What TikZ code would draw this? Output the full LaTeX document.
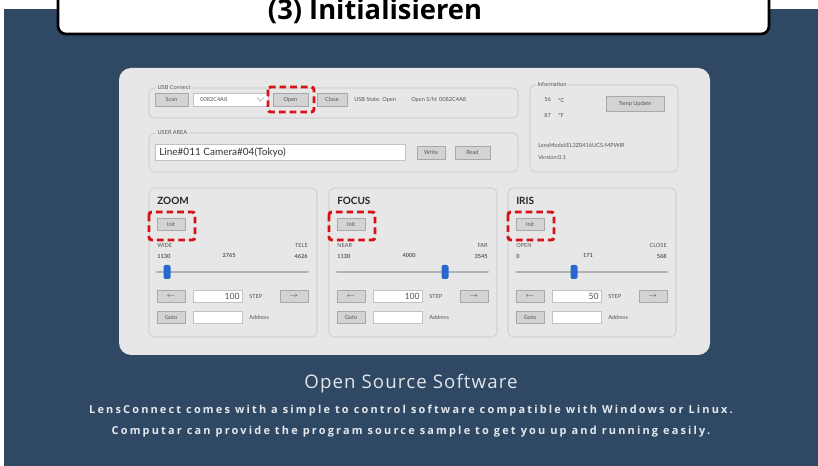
\documentclass[tikz,border=0pt]{standalone}
\usepackage{fontspec}
\setmainfont{Open Sans}
\newfontfamily\uifont{Lato}
\newfontfamily\slidefont[LetterSpace=6]{Open Sans}
\newfontfamily\slidebody[LetterSpace=20]{Open Sans}
\usetikzlibrary{positioning}
\definecolor{boardblue}{RGB}{47,73,100}
\definecolor{panelgray}{RGB}{231,231,231}
\definecolor{groupline}{RGB}{210,210,210}
\definecolor{btngray}{RGB}{211,211,211}
\definecolor{btnline}{RGB}{168,168,168}
\definecolor{uitext}{RGB}{85,85,85}
\definecolor{markred}{RGB}{214,18,24}
\definecolor{thumbblue}{RGB}{38,104,205}
\definecolor{slidetext}{RGB}{226,230,235}

\tikzset{
  uigroup/.style={draw=groupline,line width=0.8pt,rounded corners=4pt},
  uibtn/.style={draw=btnline,fill=btngray,line width=0.5pt},
  uifield/.style={draw=btnline!70,fill=white,line width=0.4pt},
  uilabel/.style={font=\uifont\fontsize{4.2}{5}\selectfont,text=uitext,inner sep=0pt},
  uititle/.style={font=\uifont\fontsize{7.5}{8}\bfseries,text=black!85,inner sep=0pt,anchor=west},
  initmark/.style={draw=markred,line width=2.2pt,dash pattern=on 5pt off 3pt,rounded corners=2pt},
}

\begin{document}
\begin{tikzpicture}[x=0.75pt,y=-0.75pt]
\useasboundingbox (0,0) rectangle (818,466);
% board and panel
\fill[boardblue] (4,9) rectangle (818,466);
\fill[panelgray,rounded corners=9pt] (119,68) rectangle (710,355);

% usb connect
\draw[uigroup] (149,88) rectangle (518,118);
\node[uilabel,fill=panelgray,inner xsep=1pt,anchor=west] (usbconnect) at (156,87) {USB Connect};
\draw[uibtn] (155,93) rectangle (188,106);
\node[uilabel] (scan) at (171.5,99.5) {Scan};
\draw[uifield] (193,93) rectangle (268,106);
\node[uilabel,anchor=west] (serial) at (200,99.5) {0082C4A8};
\draw[uitext!60,line width=0.5pt] (257,97.5) -- (260.5,101) -- (264,97.5);
\draw[uibtn] (273,93) rectangle (308,106);
\node[uilabel] (open) at (290.5,99.5) {Open};
\draw[uibtn] (317,93) rectangle (347,106);
\node[uilabel] (close) at (332,99.5) {Close};
\node[uilabel,anchor=west] (usbstate) at (354,99.5) {USB State: Open};
\node[uilabel,anchor=west] (opensn) at (411,99.5) {Open S/N: 0082C4A8};
\draw[initmark] (268,87) rectangle (314,112);

% user area
\draw[uigroup] (149,133) rectangle (518,172);
\node[uilabel,fill=panelgray,inner xsep=1pt,anchor=west] (userarea) at (156,132) {USER AREA};
\draw[uifield] (155,144) rectangle (405,160);
\node[font=\uifont\fontsize{7.5}{8}\selectfont,text=black!80,anchor=west,inner sep=0pt] (usertext) at (159,152) {Line\#011 Camera\#04(Tokyo)};
\draw[uibtn] (417,146) rectangle (445,159);
\node[uilabel] (write) at (431,152.5) {Write};
\draw[uibtn] (455,146) rectangle (490,159);
\node[uilabel] (read) at (472.5,152.5) {Read};

% information
\draw[uigroup] (530,85) rectangle (678,172);
\node[uilabel,fill=panelgray,inner xsep=1pt,anchor=west] (information) at (536,84) {Information};
\node[uilabel,anchor=west] (tempc) at (544,100) {56};
\node[uilabel,anchor=west] (unitc) at (558,100) {°C};
\node[uilabel,anchor=west] (tempf) at (544,115) {87};
\node[uilabel,anchor=west] (unitf) at (558,115) {°F};
\draw[uibtn] (606,96) rectangle (664,111);
\node[uilabel] (tempupdate) at (635,103.5) {Temp Update};
\node[uilabel,anchor=west] (lensmodel) at (538,145) {LensModel:EL3Z0416UCS-MPWIR};
\node[uilabel,anchor=west] (version) at (538,157) {Version:0.1};

% zoom, focus, iris
\foreach \gx/\gname/\lo/\hi/\vlo/\vmid/\vhi/\thumb/\stp in {%
  149/ZOOM/WIDE/TELE/1130/2765/4626/167/100,
  329/FOCUS/NEAR/FAR/1130/4000/3545/445/100,
  508/IRIS/OPEN/CLOSE/0/171/568/574/50}{
  \draw[uigroup] (\gx,188) rectangle (\gx+168,337);
  \node[uititle] (title-\gname) at (\gx+8,201) {\gname};
  \draw[uibtn] (\gx+8,218) rectangle (\gx+36,230);
  \node[uilabel] (init-\gname) at (\gx+22,224) {Init};
  \draw[initmark] (\gx,212) rectangle (\gx+46,240);
  \node[uilabel,anchor=west] (lo-\gname) at (\gx+8,245) {\lo};
  \node[uilabel,anchor=east] (hi-\gname) at (\gx+159,245) {\hi};
  \node[uilabel,anchor=west] (vlo-\gname) at (\gx+8,256) {\textbf{\vlo}};
  \node[uilabel] (vmid-\gname) at (\gx+80,255) {\textbf{\vmid}};
  \node[uilabel,anchor=east] (vhi-\gname) at (\gx+159,256) {\textbf{\vhi}};
  \draw[black!30,line width=1.5pt,line cap=round] (\gx+8,272) -- (\gx+159,272);
  \fill[thumbblue,rounded corners=1.5pt] (\thumb-3.5,265) rectangle (\thumb+3.5,279);
  \draw[uibtn] (\gx+8,290) rectangle (\gx+36,302);
  \node[uilabel] (left-\gname) at (\gx+22,296) {$\leftarrow$};
  \draw[uifield] (\gx+44,290) rectangle (\gx+93,302);
  \node[font=\uifont\fontsize{6.5}{7}\selectfont,text=uitext,anchor=east,inner sep=0pt] (step-\gname) at (\gx+91,296) {\stp};
  \node[uilabel,anchor=west] (steplbl-\gname) at (\gx+100,296) {STEP};
  \draw[uibtn] (\gx+131,290) rectangle (\gx+159,302);
  \node[uilabel] (right-\gname) at (\gx+145,296) {$\rightarrow$};
  \draw[uibtn] (\gx+8,311) rectangle (\gx+36,323);
  \node[uilabel] (goto-\gname) at (\gx+22,317) {Goto};
  \draw[uifield] (\gx+44,311) rectangle (\gx+93,323);
  \node[uilabel,anchor=west] (address-\gname) at (\gx+100,317) {Address};
}

% slide texts
\node[font=\slidefont\fontsize{14}{16}\selectfont,text=slidetext] (oss) at (411,384) {Open Source Software};
\node[font=\slidebody\fontsize{8.2}{9}\bfseries,text=slidetext!90] (line1) at (411,411) {LensConnect comes with a simple to control software compatible with Windows or Linux.};
\node[font=\slidebody\fontsize{8.2}{9}\bfseries,text=slidetext!90] (line2) at (411,432) {Computar can provide the program source sample to get you up and running easily.};

% heading box
\draw[fill=white,draw=black,line width=2pt,rounded corners=6pt] (58,-12) rectangle (769,34);
\node[font=\fontsize{20.5}{22}\bfseries,anchor=base] (heading) at (375,20) {(3) Initialisieren};
\end{tikzpicture}
\end{document}
